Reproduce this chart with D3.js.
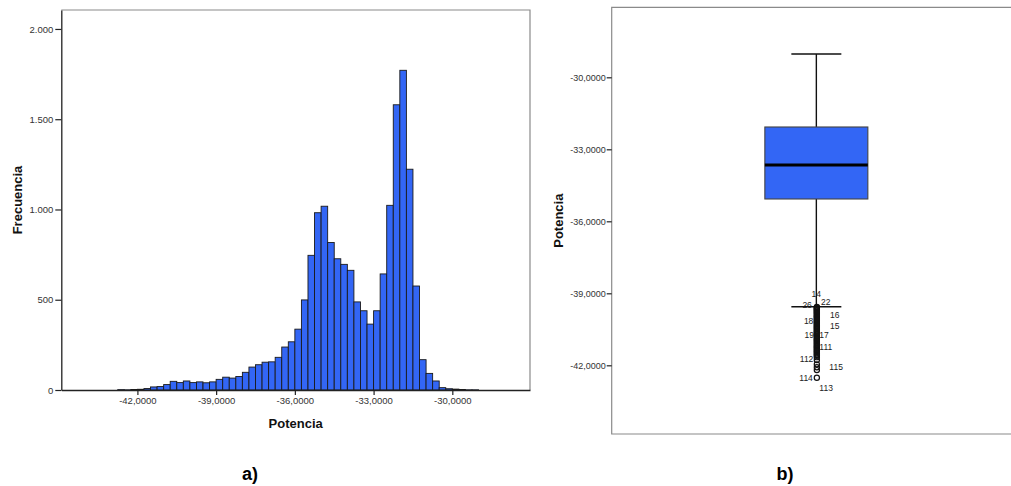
<!DOCTYPE html>
<html>
<head>
<meta charset="utf-8">
<script src="https://cdn.jsdelivr.net/npm/d3@7/dist/d3.min.js"></script>
<style>
  html, body { margin: 0; padding: 0; background: #fff; }
  svg { display: block; font-family: "Liberation Sans", Arial, sans-serif; }
</style>
</head>
<body>
<svg id="chart" width="1011" height="486"></svg>
<script>
// ---- Histogram data: bins of width 0.25 (left edges) and counts ----
const binWidth = 0.25;
const binStarts = [
  -42.75, -42.5, -42.25, -42.0, -41.75, -41.5, -41.25, -41.0, -40.75, -40.5,
  -40.25, -40.0, -39.75, -39.5, -39.25, -39.0, -38.75, -38.5, -38.25, -38.0,
  -37.75, -37.5, -37.25, -37.0, -36.75, -36.5, -36.25, -36.0, -35.75, -35.5,
  -35.25, -35.0, -34.75, -34.5, -34.25, -34.0, -33.75, -33.5, -33.25, -33.0,
  -32.75, -32.5, -32.25, -32.0, -31.75, -31.5, -31.25, -31.0, -30.75, -30.5,
  -30.25, -30.0, -29.75, -29.5, -29.25
];
const binCounts = [
  2, 1, 3, 4, 8, 17, 19, 30, 48, 41,
  50, 41, 45, 40, 45, 59, 71, 66, 75, 98,
  127, 140, 154, 156, 181, 238, 267, 337, 499, 746,
  982, 1018, 817, 727, 696, 663, 488, 439, 365, 439,
  643, 1023, 1580, 1771, 1223, 576, 168, 92, 50, 13,
  7, 5, 3, 1, 1
];
const histXTicks = [-42, -39, -36, -33, -30];
const histYTicks = [0, 500, 1000, 1500, 2000];

// ---- Box plot data ----
const boxCategory = ["Potencia"];
const whiskerHigh = -29.03;
const quartile3 = -32.07;
const medianValue = -33.65;
const quartile1 = -35.07;
const whiskerLow = -39.56;
const boxYTicks = [-30, -33, -36, -39, -42];
const outlierValues = [
  -39.57, -39.60, -39.62, -39.66, -39.70, -39.73, -39.78, -39.81, -39.85, -39.90,
  -39.94, -39.98, -40.02, -40.07, -40.11, -40.15, -40.20, -40.24, -40.28, -40.33,
  -40.37, -40.41, -40.46, -40.50, -40.55, -40.59, -40.63, -40.68, -40.72, -40.77,
  -40.81, -40.86, -40.90, -40.95, -40.99, -41.04, -41.08, -41.13, -41.18, -41.22,
  -41.27, -41.31, -41.36, -41.40, -41.45, -41.50, -41.55, -41.60, -41.66,
  -41.78, -41.96, -42.08, -42.20, -42.52
];
const outlierCases = ["14", "26", "22", "16", "18", "15", "19", "17", "111", "112", "115", "114", "113"];
const outlierCaseValues = [-39.57, -39.60, -39.62, -39.85, -40.11, -40.33, -40.68, -40.72, -41.22, -41.66, -42.08, -42.52, -42.52];

// ---- Drawing ----
const svg = d3.select("#chart");
const blue = "#3366f5";
const tickColor = "#333";
const es = d3.formatLocale({ decimal: ",", thousands: ".", grouping: [3], currency: ["", ""], minus: "-" });
const fmtCount = es.format(",d");
const fmtPower = es.format(".4f");

// Panel a) histogram
const hx = d3.scaleLinear().domain([-44.9, -27.04]).range([61.3, 530]);
const hy = d3.scaleLinear().domain([0, 2105]).range([390, 10]);

const hist = svg.append("g");

// plot frame (top and right edges in grey)
hist.append("path")
  .attr("d", `M${hx.range()[0]},${hy.range()[1]}H${hx.range()[1]}V${hy.range()[0]}`)
  .attr("fill", "none").attr("stroke", "#8a8a8a").attr("stroke-width", 1.2);

hist.append("g").selectAll("rect")
  .data(binStarts.map((s, i) => ({ s, c: binCounts[i] })))
  .join("rect")
  .attr("x", d => hx(d.s))
  .attr("width", d => hx(d.s + binWidth) - hx(d.s))
  .attr("y", d => hy(d.c))
  .attr("height", d => hy(0) - hy(d.c))
  .attr("fill", blue)
  .attr("stroke", "#1a1a1a")
  .attr("stroke-width", 0.9);

const hxAxis = hist.append("g")
  .attr("transform", `translate(0,${hy(0)})`)
  .call(d3.axisBottom(hx).tickValues(histXTicks).tickFormat(fmtPower).tickSize(5).tickSizeOuter(0).tickPadding(2));
const hyAxis = hist.append("g")
  .attr("transform", `translate(${hx.range()[0]},0)`)
  .call(d3.axisLeft(hy).tickValues(histYTicks).tickFormat(fmtCount).tickSize(6).tickSizeOuter(0).tickPadding(2));

[hxAxis, hyAxis].forEach(a => {
  a.attr("font-family", null);
  a.select(".domain").attr("stroke", "#222").attr("stroke-width", 1.3);
  a.selectAll(".tick line").attr("stroke", "#222").attr("stroke-width", 1.2);
  a.selectAll(".tick text").attr("fill", tickColor).attr("font-size", "9.5px");
});

hist.append("text")
  .attr("x", (hx.range()[0] + hx.range()[1]) / 2)
  .attr("y", 428)
  .attr("text-anchor", "middle")
  .attr("font-size", "13px").attr("font-weight", "bold").attr("fill", "#111")
  .text("Potencia");

hist.append("text")
  .attr("transform", `translate(22,200) rotate(-90)`)
  .attr("text-anchor", "middle")
  .attr("font-size", "13px").attr("font-weight", "bold").attr("fill", "#111")
  .text("Frecuencia");

// Panel b) box plot
const by = d3.scaleLinear().domain([-27.083, -44.862]).range([7.3, 434]);
const bx = d3.scalePoint().domain(boxCategory).range([611.7, 1021]).padding(0.5);
const cx = bx("Potencia");
const boxW = 103;
const capW = 50;

const box = svg.append("g");

box.append("path")
  .attr("d", `M1012,${by.range()[0]}H${bx.range()[0]}V${by.range()[1]}H1012`)
  .attr("fill", "none").attr("stroke", "#8a8a8a").attr("stroke-width", 1.2);

const byAxis = box.append("g")
  .attr("transform", `translate(${bx.range()[0]},0)`)
  .call(d3.axisLeft(by).tickValues(boxYTicks).tickFormat(fmtPower).tickSize(5).tickSizeOuter(0).tickPadding(1))
  .attr("font-family", null);
byAxis.select(".domain").remove();
byAxis.selectAll(".tick line").attr("stroke", "#222").attr("stroke-width", 1.2);
byAxis.selectAll(".tick text").attr("fill", tickColor).attr("font-size", "9px");

// whiskers
box.append("line")
  .attr("x1", cx).attr("x2", cx)
  .attr("y1", by(whiskerHigh)).attr("y2", by(whiskerLow))
  .attr("stroke", "#111").attr("stroke-width", 1.4);
[whiskerHigh, whiskerLow].forEach(v => {
  box.append("line")
    .attr("x1", cx - capW / 2).attr("x2", cx + capW / 2)
    .attr("y1", by(v)).attr("y2", by(v))
    .attr("stroke", "#111").attr("stroke-width", 1.4);
});

// box and median
box.append("rect")
  .attr("x", cx - boxW / 2).attr("width", boxW)
  .attr("y", by(quartile3)).attr("height", by(quartile1) - by(quartile3))
  .attr("fill", blue).attr("stroke", "#444").attr("stroke-width", 1.1);
box.append("line")
  .attr("x1", cx - boxW / 2).attr("x2", cx + boxW / 2)
  .attr("y1", by(medianValue)).attr("y2", by(medianValue))
  .attr("stroke", "#000").attr("stroke-width", 3);

// outliers: hollow rings, which merge into a solid column where dense
box.append("g").selectAll("circle")
  .data(outlierValues)
  .join("circle")
  .attr("cx", cx + 0.5).attr("cy", d => by(d))
  .attr("r", 2.6)
  .attr("fill", "none")
  .attr("stroke", "#111").attr("stroke-width", 1.2);

// case labels: [anchor, dx, dy] placement beside the outlier column
const labelPlacement = {
  "14": ["middle", 0, -13],
  "26": ["end", -4.5, -2.4],
  "22": ["start", 4.7, -6],
  "16": ["start", 13.7, 0.8],
  "18": ["end", -3, 1],
  "15": ["start", 13.7, 0.6],
  "19": ["end", -2.3, 1.3],
  "17": ["start", 3, 0.7],
  "111": ["start", 3, 0.7],
  "112": ["end", -3, 2],
  "115": ["start", 13, -0.2],
  "114": ["end", -3.5, 0],
  "113": ["start", 3, 10.5]
};
box.append("g").selectAll("text")
  .data(outlierCases.map((id, i) => ({ id, v: outlierCaseValues[i] })))
  .join("text")
  .attr("x", d => cx + labelPlacement[d.id][1])
  .attr("y", d => by(d.v) + labelPlacement[d.id][2])
  .attr("text-anchor", d => labelPlacement[d.id][0])
  .attr("dominant-baseline", "central")
  .attr("font-size", "8.5px").attr("fill", "#222")
  .text(d => d.id);

box.append("text")
  .attr("transform", `translate(563,${(by.range()[0] + by.range()[1]) / 2}) rotate(-90)`)
  .attr("text-anchor", "middle")
  .attr("font-size", "13px").attr("font-weight", "bold").attr("fill", "#111")
  .text("Potencia");

// panel captions
svg.append("text").attr("x", 250).attr("y", 480).attr("text-anchor", "middle")
  .attr("font-size", "18px").attr("font-weight", "bold").attr("fill", "#000").text("a)");
svg.append("text").attr("x", 785).attr("y", 480).attr("text-anchor", "middle")
  .attr("font-size", "18px").attr("font-weight", "bold").attr("fill", "#000").text("b)");
</script>
</body>
</html>
